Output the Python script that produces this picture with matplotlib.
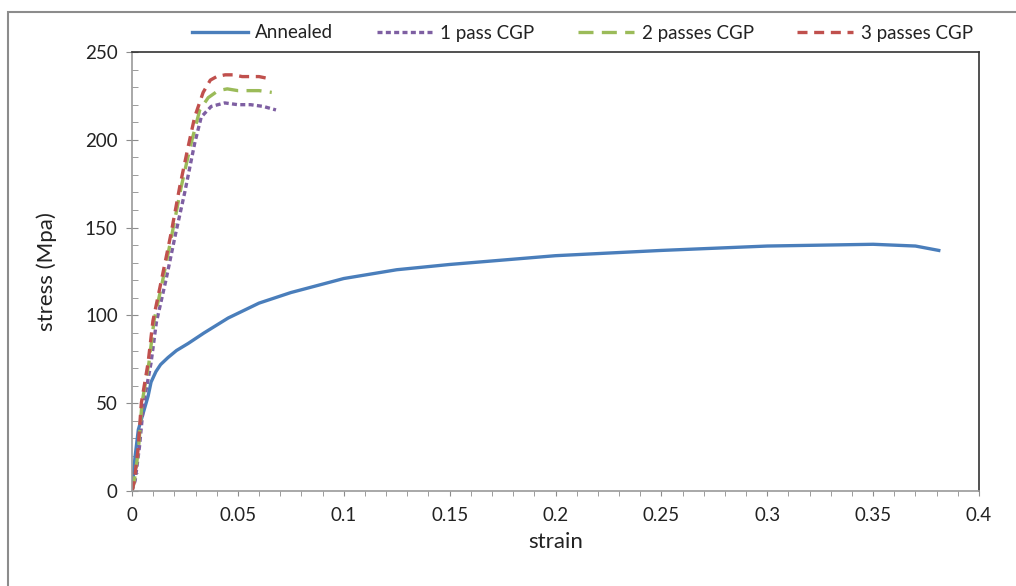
import matplotlib.pyplot as plt
from matplotlib.ticker import MultipleLocator, FuncFormatter
from matplotlib.patches import Rectangle

plt.rcParams['font.family'] = ['Lato', 'DejaVu Sans']

# annealed sample
ann_strain = [0, 0.0014, 0.003, 0.0052, 0.0076, 0.009, 0.0113, 0.0135, 0.017, 0.021, 0.0265,
              0.034, 0.0454, 0.06, 0.075, 0.1, 0.125, 0.15, 0.2, 0.25, 0.3, 0.35, 0.37, 0.381]
ann_stress = [0, 19, 35, 44, 54, 62, 68, 72, 76, 80, 84,
              90, 98.5, 107, 113, 121, 126, 129, 134, 137, 139.5, 140.5, 139.5, 137]

# 1 pass CGP
p1_strain = [0, 0.0015, 0.0035, 0.0055, 0.009, 0.0115, 0.016, 0.0205, 0.0249, 0.0296,
             0.0327, 0.0374, 0.0438, 0.050, 0.056, 0.062, 0.068]
p1_stress = [0, 6, 25, 50, 73, 96, 120, 146, 170, 198,
             213, 219, 221, 220, 220, 219, 217]

# 2 passes CGP
p2_strain = [0, 0.001, 0.003, 0.0047, 0.008, 0.0104, 0.0145, 0.019, 0.0232, 0.0275,
             0.032, 0.036, 0.0407, 0.045, 0.050, 0.055, 0.060, 0.066]
p2_stress = [0, 5, 23, 50, 73, 97, 120, 147, 173, 196,
             217, 224, 228, 229, 228, 228, 228, 227]

# 3 passes CGP
p3_strain = [0, 0.001, 0.0028, 0.0044, 0.0076, 0.0099, 0.0139, 0.0185, 0.0225, 0.0265,
             0.0296, 0.0336, 0.037, 0.040, 0.044, 0.048, 0.052, 0.056, 0.060, 0.064]
p3_stress = [0, 5, 23, 50, 73, 97, 120, 147, 173, 196,
             213, 227, 234, 236, 237, 237, 236, 236, 236, 235]

fig = plt.figure(figsize=(10.16, 5.86), dpi=100)
ax = fig.add_axes([132/1016, 1 - 491/586, (979 - 132)/1016, (491 - 52)/586])

# outer chart border
fig.patches.append(Rectangle((8/1016, -0.1), 1.2, 1 - 12/586 + 0.1, transform=fig.transFigure,
                             fill=False, edgecolor='#8c8c8c', linewidth=1.5))

ax.plot(ann_strain, ann_stress, color='#4A7EBB', lw=2.4, label='Annealed')
ax.plot(p1_strain, p1_stress, color='#7E5FA2', lw=2.4, dashes=(1.5, 1.0), label='1 pass CGP')
ax.plot(p2_strain, p2_stress, color='#9BBB59', lw=2.4, dashes=(4.5, 2.5), label='2 passes CGP')
ax.plot(p3_strain, p3_stress, color='#C0504D', lw=2.4, dashes=(3.0, 2.0), label='3 passes CGP')

ax.set_xlim(0, 0.4)
ax.set_ylim(0, 250)
ax.xaxis.set_major_locator(MultipleLocator(0.05))
ax.xaxis.set_minor_locator(MultipleLocator(0.01))
ax.yaxis.set_major_locator(MultipleLocator(50))
ax.yaxis.set_minor_locator(MultipleLocator(10))
ax.xaxis.set_major_formatter(FuncFormatter(lambda v, pos: f'{v:g}'))

ax.tick_params(axis='y', which='major', direction='inout', length=8.5, color='#8c8c8c',
               labelsize=13.5, labelcolor='#222222', pad=6)
ax.tick_params(axis='y', which='minor', direction='in', length=4.3, color='#8c8c8c')
ax.tick_params(axis='x', which='both', direction='out', length=3.5, color='#8c8c8c',
               labelsize=13.5, labelcolor='#222222', pad=8)

for s in ['left', 'bottom']:
    ax.spines[s].set_color('#9a9a9a')
    ax.spines[s].set_linewidth(1.2)
for s in ['top', 'right']:
    ax.spines[s].set_color('#333333')
    ax.spines[s].set_linewidth(1.2)

ax.set_xlabel('strain', fontsize=16, color='#222222', labelpad=6)
ax.set_ylabel('stress (Mpa)', fontsize=16, color='#222222', labelpad=20)

fig.legend(loc='center', bbox_to_anchor=(0.573, 1 - 33/586), ncol=4, frameon=False,
           fontsize=13.5, handlelength=3.0, columnspacing=2.3, handletextpad=0.4,
           labelcolor='#222222')

fig.savefig('out.png', dpi=100)
